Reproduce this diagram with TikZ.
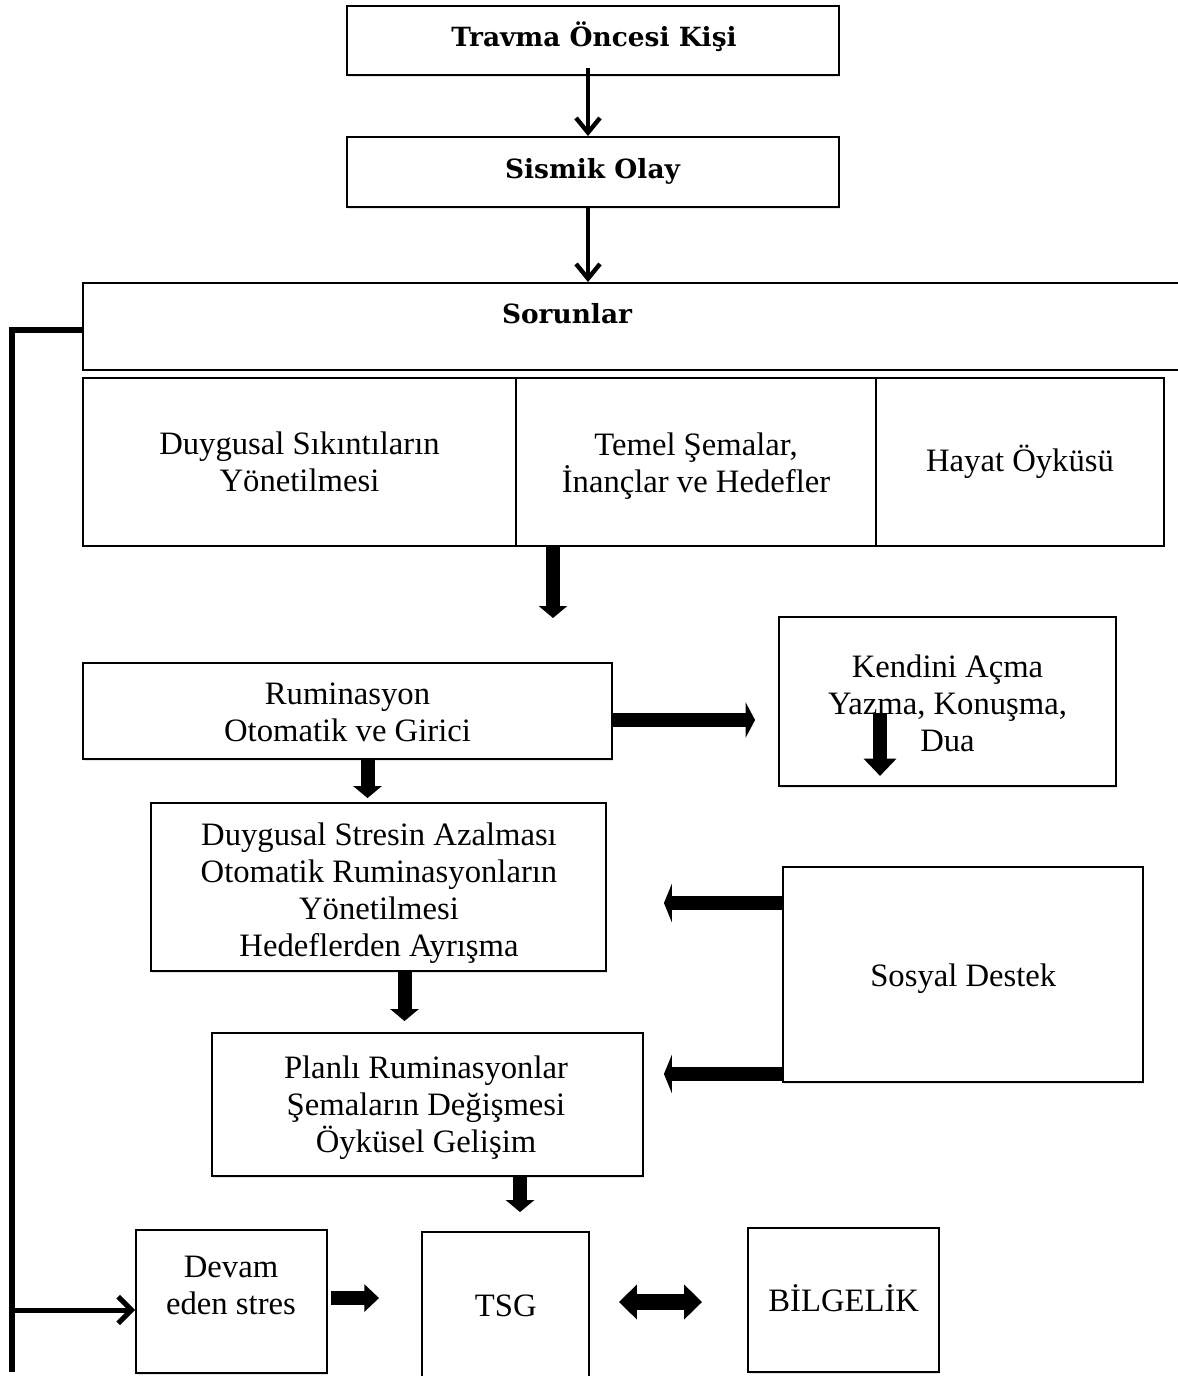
\documentclass[tikz,border=0pt]{standalone}
\usepackage{fontspec}
\setmainfont{Liberation Serif}
\newfontfamily\hdfont{DejaVu Serif}
\usetikzlibrary{arrows.meta,shadows,calc}
\begin{document}
\begin{tikzpicture}[x=0.75pt,y=-0.75pt,
  lbl/.style={font=\fontsize{24.5}{27.75}\selectfont, align=center, inner sep=0pt},
  hd/.style={font=\fontsize{19.8}{24}\selectfont\hdfont\bfseries, inner sep=0pt},
  plainbox/.style={draw, line width=1.4pt, fill=white, inner sep=0pt},
  box/.style={plainbox, drop shadow={opacity=0.2, shadow xshift=0.9pt, shadow yshift=-1.5pt}},
  thinarrow/.style={line width=3.3pt, -{Straight Barb[length=11pt,width=18pt]}},
  fat/.style={line width=10.5pt, -{Triangle[length=9pt,width=21pt]}},
  fb/.style={line width=3.8pt},
]
\fill[white] (0,0) rectangle (1177,1376);
\useasboundingbox (0,0) rectangle (1177,1376);

% boxes
\node[box, minimum width=369pt, minimum height=51.75pt] (pre) at (593,40.5) {};
\node[hd, anchor=base] (pretxt) at (594,46.7) {Travma Öncesi Kişi};
\node[box, minimum width=369pt, minimum height=52.5pt] (sis) at (593,172) {};
\node[hd, anchor=base] (sistxt) at (592.5,178.3) {Sismik Olay};
\node[plainbox, minimum width=837.75pt, minimum height=65.25pt] (sor) at (641.5,326.5) {};
\node[hd, anchor=base] (sortxt) at (567,323.3) {Sorunlar};

\node[plainbox, minimum width=324.75pt, minimum height=126pt] (c1) at (299.5,462) {};
\node[plainbox, minimum width=270pt, minimum height=126pt] (c2) at (696,462) {};
\node[plainbox, minimum width=216pt, minimum height=126pt] (c3) at (1020,462) {};
\node[lbl] (c1txt) at (299.5,462.2) {Duygusal Sıkıntıların\\Yönetilmesi};
\node[lbl] (c2txt) at (696,465.7) {Temel Şemalar,\\İnançlar ve Hedefler};
\node[lbl, anchor=base] (c3txt) at (1020,471.7) {Hayat Öyküsü};

\node[box, minimum width=396.75pt, minimum height=72pt] (rum) at (347.5,711) {};
\node[lbl] (rumtxt) at (347.5,712.2) {Ruminasyon\\Otomatik ve Girici};

\node[box, minimum width=252.75pt, minimum height=126.75pt] (ken) at (947.5,701.5) {};
\node[lbl] (kentxt) at (947.5,703.4) {Kendini Açma\\Yazma, Konuşma,\\Dua};

\node[box, minimum width=341.25pt, minimum height=126pt] (ds) at (378.5,887) {};
\node[lbl] (dstxt) at (379,893.3) {Duygusal Stresin Azalması\\Otomatik Ruminasyonların\\Yönetilmesi\\Hedeflerden Ayrışma};

\node[box, minimum width=323.25pt, minimum height=107.25pt] (plan) at (427.5,1104.5) {};
\node[lbl] (plantxt) at (426,1107.2) {Planlı Ruminasyonlar\\Şemaların Değişmesi\\Öyküsel Gelişim};

\node[box, minimum width=270pt, minimum height=161.25pt] (sd) at (963,974.5) {};
\node[lbl, anchor=base] (sdtxt) at (963.3,986.7) {Sosyal Destek};

\node[box, minimum width=143.25pt, minimum height=107.25pt] (devam) at (231.5,1301.5) {};
\node[lbl] (devamtxt) at (231,1285.5) {Devam\\eden stres};

\node[box, minimum width=125.25pt, minimum height=111pt] (tsg) at (505.5,1306) {};
\node[lbl, anchor=base] (tsgtxt) at (505.8,1316.7) {TSG};

\node[box, minimum width=143.25pt, minimum height=108pt] (bilg) at (843.5,1300) {};
\node[lbl, anchor=base] (bilgtxt) at (843.7,1311.7) {BİLGELİK};

% connectors
\draw[thinarrow] ([xshift=-3.75pt,yshift=6pt]pre.south) -- ([xshift=-3.75pt]sis.north);
\draw[thinarrow] ([xshift=-3.75pt]sis.south) -- ([xshift=-3.75pt]sis.south |- sor.north);

\coordinate (a3) at (553,618);
\draw[fat] (c2.south -| a3) -- (a3);

\draw[fat, -{Triangle[length=7pt,width=26pt]}, shorten >=17.25pt] ([yshift=-6.75pt]rum.east) -- ([yshift=-6.75pt]rum.east -| ken.west);

\coordinate (a5s) at ($(ken.south)+(-67.5,-74)$);
\coordinate (a5e) at ($(ken.south)+(-67.5,-11)$);
\draw[fat, -{Triangle[length=13pt,width=24pt]}] (a5s) -- (a5e);

\draw[fat, shorten >=3pt] ([xshift=15pt]rum.south) -- ([xshift=15pt]rum.south |- ds.north);
\draw[fat, shorten >=8.25pt] ([xshift=19.5pt]ds.south) -- ([xshift=19.5pt]ds.south |- plan.north);

\draw[fat, -{Triangle[length=6pt,width=29pt]}, shorten >=42.75pt] ([yshift=53.6pt]sd.west) -- ([yshift=53.6pt]sd.west -| ds.east);
\draw[fat, -{Triangle[length=6pt,width=29pt]}, shorten >=15pt] ([yshift=-74.6pt]sd.west) -- ([yshift=-74.6pt]sd.west -| plan.east);

\draw[fat, shorten >=14.25pt] ([xshift=69.4pt]plan.south) -- ([xshift=69.4pt]plan.south |- tsg.north);

\draw[line width=10pt, -{Triangle[length=11pt,width=20pt]}, shorten <=2.25pt, shorten >=31.5pt] ([yshift=2.6pt]devam.east) -- ([yshift=2.6pt]devam.east -| tsg.west);

\draw[line width=12pt, {Triangle[length=13.5pt,width=25.5pt]}-{Triangle[length=13.5pt,width=25.5pt]}, shorten <=21.75pt, shorten >=33.75pt] ([yshift=3pt]tsg.east) -- ([yshift=3pt]tsg.east -| bilg.west);

% feedback line
\coordinate (fbb) at (12,1372);
\draw[fb] ([yshift=-2.6pt]sor.west) -| (fbb);
\coordinate (dv) at ([yshift=-6.4pt]devam.west);
\draw[fb, -{Straight Barb[length=10pt,width=20pt]}] (fbb |- dv) -- (dv);
\end{tikzpicture}
\end{document}
